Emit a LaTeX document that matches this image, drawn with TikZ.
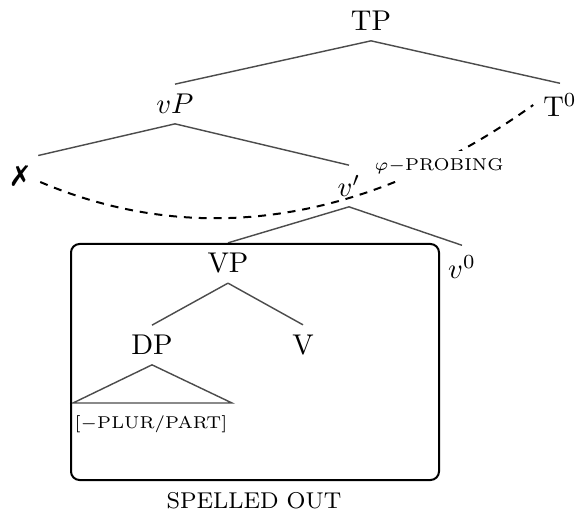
\documentclass[tikz,border=0pt]{standalone}
\usepackage{tikz}
\usepackage{pifont}
\usetikzlibrary{positioning}
\tikzstyle{cat}=[inner sep=3.33pt]
\tikzstyle{feature}=[inner sep=2.5pt,font=\fontsize{6}{7.5}\selectfont]
\tikzstyle{branch}=[draw,black!70,line width=0.5pt]
\tikzstyle{probe}=[draw,line width=0.7pt,dash pattern=on 2.8pt off 2.4pt]
\tikzstyle{spellbox}=[draw,line width=0.7pt,rounded corners=3pt]
\tikzstyle{probelabel}=[feature,fill=white]

\begin{document}
\begin{tikzpicture}[x=0.35pt,y=-0.35pt]
 \useasboundingbox (0,0) rectangle (576,513);

 %TP and vP
 \foreach \x/\y/\name/\label in {371/21/TP/{TP}, 175/104/vP/{$vP$}, 560/105/T0/{T$^0$}, 20/176/gone/{\ding{55}}, 349/186/vbar/{$v'$}}
   \node[cat] (\name) at (\x,\y) {\label};

 %VP inside the box
 \foreach \x/\y/\name/\label in {228/263/VP/{VP}, 462/267/v0/{$v^0$}, 152/345/DP/{DP}, 303/345/V/{V}}
   \node[cat] (\name) at (\x,\y) {\label};

 \foreach \source/\dest in {TP/vP, TP/T0, vP/vbar, vbar/VP, vbar/v0, VP/DP, VP/V}
   \path[branch] (\source.south) -- (\dest.north);
 \path[branch] (vP.south) -- (gone.north east);

 %DP triangle
 \coordinate (triL) at (73,403);
 \coordinate (triR) at (232,403);
 \path[branch] (triL) -- (DP.south) -- (triR) -- cycle;
 \node[feature] (feat) at (151,424) {[$-$PLUR/PART]};

 %spell-out domain
 \draw[spellbox] (71,244) rectangle (439,480);
 \node[cat,font=\footnotesize] (spell) at (254,501) {SPELLED OUT};

 %probing
 \path[probe] ([shift={(2,6)}]gone.east) .. controls (198,249) and (368,223) .. (T0.west);
 \node[probelabel] (probing) at (439,166) {$\varphi-$PROBING};
\end{tikzpicture}
\end{document}
